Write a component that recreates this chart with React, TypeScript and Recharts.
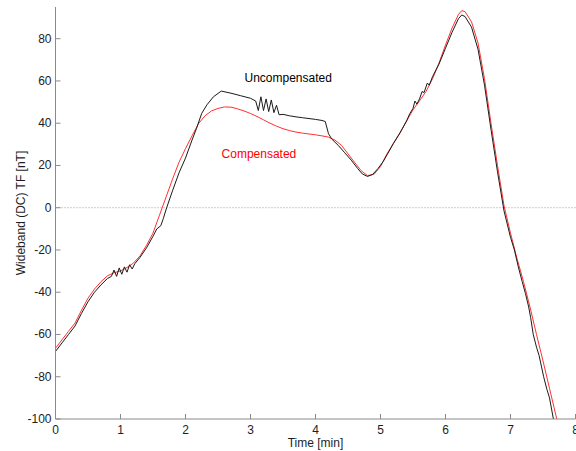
import React from 'react';
import { LineChart, Line, XAxis, YAxis, ReferenceLine, ReferenceDot } from 'recharts';

// Uncompensated (black) series
const uncompTime = [
  0, 0.1, 0.2, 0.3, 0.4, 0.5, 0.6, 0.7, 0.8, 0.86, 0.9, 0.94, 0.98, 1.02, 1.06, 1.1, 1.14, 1.18, 1.22,
  1.3, 1.4, 1.5, 1.56, 1.62, 1.66, 1.71, 1.8, 1.9, 2.0, 2.1, 2.17, 2.25, 2.33, 2.43, 2.55, 2.7, 2.85,
  3.0, 3.08, 3.12, 3.16, 3.2, 3.24, 3.28, 3.32, 3.36, 3.4, 3.44, 3.5, 3.6, 3.7, 3.8, 3.9, 4.0, 4.1,
  4.15, 4.2, 4.25, 4.35, 4.45, 4.55, 4.65, 4.72, 4.8, 4.88, 4.96, 5.04, 5.1, 5.2, 5.3, 5.4, 5.45,
  5.5, 5.53, 5.56, 5.6, 5.64, 5.67, 5.72, 5.75, 5.8, 5.9, 6.0, 6.1, 6.2, 6.25, 6.3, 6.4, 6.5, 6.6,
  6.7, 6.8, 6.9, 7.0, 7.06, 7.12, 7.18, 7.23, 7.28, 7.31, 7.35, 7.4, 7.44, 7.51, 7.56, 7.6, 7.66, 7.72,
];
const uncompValue = [
  -68, -64, -60, -56, -50, -44.5, -40, -36.5, -33.5, -32.5, -29.5, -32.5, -28.5, -31.5, -28, -30.5, -27, -29, -26.5,
  -23.5, -19, -13.5, -10, -8.5, -5, 0, 8, 16.5, 23.5, 32, 37.6, 44.7, 48.7, 52.5, 55.2, 54.2, 53,
  51.8, 50.5, 46, 52.5, 46, 51.5, 45.5, 51, 45, 48.5, 44, 44.2, 43.5, 43, 42.6, 42.2, 41.8, 41.3,
  40.8, 35, 32.5, 29.5, 26, 22.5, 18.5, 16, 14.8, 15.8, 18.5, 21.8, 25, 30.5, 35.5, 41, 44.5,
  47, 50.5, 49, 51.5, 55, 54.5, 59, 58, 62, 68, 75.5, 83, 89.5, 91.2, 90.5, 85.5, 75, 58,
  37, 17, -1.5, -14, -20, -28, -35, -40.6, -47, -52, -60, -66, -70, -80, -86, -90, -100, -110,
];

// Compensated (red) series
const compTime = [
  0, 0.1, 0.2, 0.3, 0.4, 0.5, 0.6, 0.7, 0.8, 0.9, 1.0, 1.1, 1.2, 1.3, 1.4, 1.5, 1.6, 1.7, 1.8, 1.9,
  2.0, 2.1, 2.2, 2.3, 2.4, 2.5, 2.6, 2.7, 2.8, 2.9, 3.0, 3.1, 3.2, 3.3, 3.4, 3.5, 3.6, 3.7, 3.8, 3.9,
  4.0, 4.1, 4.2, 4.3, 4.4, 4.5, 4.6, 4.7, 4.8, 4.9, 5.0, 5.1, 5.2, 5.3, 5.4, 5.5, 5.6, 5.7, 5.8, 5.9,
  6.0, 6.1, 6.2, 6.25, 6.3, 6.4, 6.5, 6.6, 6.7, 6.8, 6.9, 7.0, 7.1, 7.2, 7.3, 7.4, 7.5, 7.6, 7.7, 7.8,
];
const compValue = [
  -66.5, -62.5, -58.5, -54.6, -48.5, -42.8, -38.5, -35, -32.2, -30.8, -29.9, -28.3, -26.2, -22.8, -17.8, -12, -3.5, 5, 13.5, 21.5,
  28, 34, 39.8, 43.5, 45.8, 47, 47.7, 47.6, 46.8, 45.8, 44.6, 43.2, 41.6, 40, 38.6, 37.4, 36.5, 35.8, 35.3, 34.9,
  34.5, 34, 33.4, 32, 29.5, 25.5, 21.5, 17.6, 15.2, 15.8, 19.5, 25.5, 30.5, 35.3, 41, 46.3, 50.6, 55, 61, 68.5,
  77, 85, 91.5, 93.3, 92.8, 88, 78, 61, 40, 20, 1, -12, -24, -35, -47, -60, -72.5, -85.5, -98.5, -111,
];

const xTicks = [0, 1, 2, 3, 4, 5, 6, 7, 8];
const yTicks = [-100, -80, -60, -40, -20, 0, 20, 40, 60, 80];
const yDomain = [-100, 95];
const xDomain = [0, 8];

const uncompData = uncompTime.map((t, i) => ({ t, v: uncompValue[i] }));
const compData = compTime.map((t, i) => ({ t, v: compValue[i] }));

const FONT = '"Liberation Sans", Arial, Helvetica, sans-serif';
const AXIS = '#8a8a8a';
const TEXT = '#1e1e1e';
const TL = 5;

const BottomTick = (props: any) => {
  const { x, y, payload } = props;
  return (
    <g>
      <line x1={x} y1={y} x2={x} y2={y - TL} stroke={AXIS} strokeWidth={1} />
      <text x={x} y={y + 15} textAnchor="middle" fontSize={12} fill={TEXT} fontFamily={FONT}>
        {payload.value}
      </text>
    </g>
  );
};

const TopTick = (props: any) => {
  const { x, y } = props;
  return <line x1={x} y1={y} x2={x} y2={y + TL} stroke={AXIS} strokeWidth={1} />;
};

const LeftTick = (props: any) => {
  const { x, y, payload } = props;
  return (
    <g>
      <line x1={x} y1={y} x2={x + TL} y2={y} stroke={AXIS} strokeWidth={1} />
      <text x={x - 4} y={y + 4} textAnchor="end" fontSize={12} fill={TEXT} fontFamily={FONT}>
        {payload.value}
      </text>
    </g>
  );
};

const RightTick = (props: any) => {
  const { x, y } = props;
  return <line x1={x} y1={y} x2={x - TL} y2={y} stroke={AXIS} strokeWidth={1} />;
};

const YLabel = (props: any) => {
  const vb = props.viewBox || { x: 0, y: 7, width: 55, height: 412 };
  const cx = vb.x + 20;
  const cy = vb.y + vb.height / 2;
  return (
    <text
      x={cx}
      y={cy}
      transform={`rotate(-90 ${cx} ${cy})`}
      textAnchor="middle"
      dominantBaseline="central"
      fontSize={12}
      fill={TEXT}
      fontFamily={FONT}
    >
      Wideband (DC) TF [nT]
    </text>
  );
};

const XLabel = (props: any) => {
  const vb = props.viewBox || { x: 55, y: 419, width: 520, height: 32 };
  return (
    <text
      x={vb.x + vb.width / 2}
      y={vb.y + 28}
      textAnchor="middle"
      fontSize={12}
      fill={TEXT}
      fontFamily={FONT}
    >
      Time [min]
    </text>
  );
};

export default function App() {
  return (
    <div style={{ position: 'absolute', left: 0, top: 0, width: 576, height: 451, background: '#fff' }}>
      <LineChart width={576} height={451} margin={{ top: 7, right: 0.5, bottom: 0, left: 0.5 }}>
        <XAxis
          xAxisId={0}
          dataKey="t"
          type="number"
          domain={xDomain}
          ticks={xTicks}
          interval={0}
          height={32}
          tickSize={0}
          tickMargin={0}
          tick={BottomTick}
          tickLine={false}
          axisLine={{ stroke: AXIS }}
          allowDataOverflow
          label={{ content: XLabel }}
        />
        <XAxis
          xAxisId="top"
          orientation="top"
          dataKey="t"
          type="number"
          domain={xDomain}
          ticks={xTicks}
          interval={0}
          height={0}
          tickSize={0}
          tickMargin={0}
          tick={TopTick}
          tickLine={false}
          axisLine={{ stroke: AXIS }}
          allowDataOverflow
        />
        <YAxis
          yAxisId={0}
          type="number"
          domain={yDomain}
          ticks={yTicks}
          interval={0}
          width={55}
          tickSize={0}
          tickMargin={0}
          tick={LeftTick}
          tickLine={false}
          axisLine={{ stroke: AXIS }}
          allowDataOverflow
          label={{ content: YLabel }}
        />
        <YAxis
          yAxisId="right"
          orientation="right"
          type="number"
          domain={yDomain}
          ticks={yTicks}
          interval={0}
          width={0}
          tickSize={0}
          tickMargin={0}
          tick={RightTick}
          tickLine={false}
          axisLine={{ stroke: AXIS }}
          allowDataOverflow
        />
        <ReferenceLine y={0} stroke="#9a9a9a" strokeDasharray="1 2" strokeWidth={1} />
        <Line
          data={compData}
          dataKey="v"
          type="linear"
          stroke="#ff3030"
          strokeWidth={1}
          dot={false}
          activeDot={false}
          isAnimationActive={false}
        />
        <Line
          data={uncompData}
          dataKey="v"
          type="linear"
          stroke="#1a1a1a"
          strokeWidth={1}
          dot={false}
          activeDot={false}
          isAnimationActive={false}
        />
        <ReferenceDot
          x={3.58}
          y={61.5}
          r={1}
          fill="none"
          stroke="none"
          label={{ value: 'Uncompensated', position: 'center', fill: '#000', fontSize: 12, fontFamily: FONT }}
        />
        <ReferenceDot
          x={3.13}
          y={25.4}
          r={1}
          fill="none"
          stroke="none"
          label={{ value: 'Compensated', position: 'center', fill: '#ff0000', fontSize: 12, fontFamily: FONT }}
        />
      </LineChart>
    </div>
  );
}
